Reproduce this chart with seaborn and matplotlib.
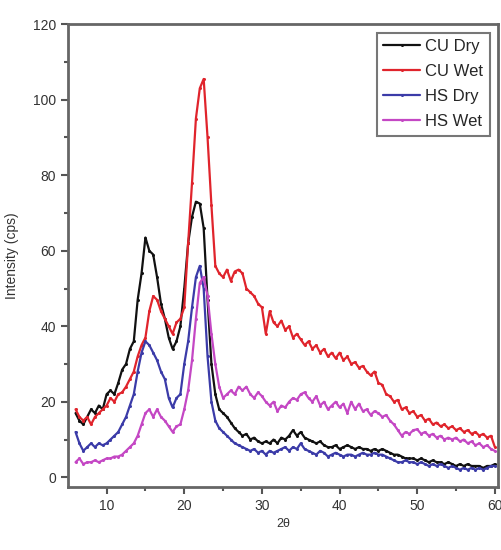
"""
XRD patterns: CU / HS fibres, dry vs wet.
"""

import matplotlib
matplotlib.use("Agg")
import matplotlib.pyplot as plt
import seaborn as sns
import numpy as np
import pandas as pd

# 2-theta grid, 0.5 deg step from 6 to 60
two_theta = np.arange(6.0, 60.01, 0.5)

cu_dry = [
    17, 15, 14, 16, 18, 17, 19, 18, 22, 23,
    22, 25, 28.5, 30, 34, 36, 47, 54, 63.5, 60,
    59, 53, 46, 42, 37, 34, 36, 40, 50, 62,
    69, 73, 72.5, 66, 47, 30, 22, 18, 17, 16,
    14.5, 13, 12, 11, 11.5, 10, 10.5, 9.5, 9, 9.5,
    9, 10, 9, 10.5, 10, 11, 12.5, 11, 12, 10.5,
    10, 9.5, 9, 9.5, 8.5, 8, 8, 8.5, 7.5, 8,
    8.5, 8, 7.5, 8, 7.5, 7.5, 7, 7.5, 7, 7.5,
    7, 6.5, 6, 6, 5.5, 5, 5, 5, 4.5, 5,
    4.5, 4, 4.5, 4, 4, 3.5, 4, 3.5, 3, 3.5,
    3, 3.5, 3, 3, 3, 2.5, 3, 3, 3.5,
]
cu_wet = [
    18, 16, 15, 16, 14, 16, 17, 18, 19, 21,
    20, 22, 22.5, 24, 26, 28, 32, 35, 37, 44,
    48, 47, 44, 42, 40, 38, 41, 42, 45, 62,
    78, 95, 103, 105.5, 90, 72, 56, 54, 53, 55,
    52, 54.5, 55, 54, 50, 49, 48, 46, 45, 38,
    44, 41, 40, 41.5, 39, 40, 37, 38, 36.5, 35,
    36, 34, 35, 33, 34, 32, 33, 31.5, 33, 31,
    32, 30, 30.5, 29, 29.5, 28, 27, 28, 25, 24.5,
    22, 21.5, 20, 20.5, 18, 18.5, 17, 17.5, 16, 16.5,
    15, 15.5, 14, 14.5, 13.5, 14, 13, 13.5, 12.5, 13,
    12, 12.5, 11.5, 12, 11, 11.5, 10.5, 11, 8,
]
hs_dry = [
    12, 9, 7, 8, 9, 8, 9, 8.5, 9, 10,
    11, 12, 14, 16, 19, 22, 28, 33, 36, 35,
    33, 31, 28, 26, 21, 18.5, 21, 22, 30, 36,
    45, 53, 56, 50, 32, 20, 15, 13, 12, 11,
    10, 9, 8.5, 8, 7.5, 7, 7.5, 6.5, 7, 6,
    7, 6.5, 7, 7.5, 8, 7, 8, 7.5, 9, 7.5,
    7, 6.5, 6, 7, 6.5, 5.5, 6, 6.5, 6, 5.5,
    6, 6, 5.5, 6, 6.5, 6, 6, 6.5, 6, 6,
    5.5, 5, 4.5, 4, 4, 4.5, 4, 4, 3.5, 4,
    3.5, 3, 3.5, 3, 3.5, 3, 2.5, 3, 2.5, 2,
    2.5, 2, 2.5, 2, 2.5, 2, 2.5, 3, 3,
]
hs_wet = [
    4, 5, 3.5, 4, 4, 4.5, 4, 4.5, 5, 5,
    5.5, 5.5, 6, 7, 8, 9, 11, 14, 17, 18,
    16, 18, 16, 15, 13.5, 12, 13.5, 14, 18, 23,
    31, 42, 51.5, 53, 48, 38, 30, 24, 21, 22,
    23, 22, 24, 23, 24, 22, 21, 22.5, 21.5, 20,
    19, 20, 17.5, 19, 18.5, 20, 21, 20.5, 22, 22.5,
    21, 20, 21.5, 19, 20, 18, 19, 20, 18.5, 19.5,
    17, 20, 18, 19.5, 17.5, 18, 16.5, 17.5, 17, 16,
    16.5, 15, 14, 12.5, 11, 12, 11.5, 12.5, 12.7, 11.5,
    12, 11, 11.5, 10.5, 11, 10, 10.5, 10, 10.5, 9.5,
    10, 9, 9.5, 8.5, 9, 8, 8.5, 7.5, 7,
]

series_names = ["CU Dry", "CU Wet", "HS Dry", "HS Wet"]
series_colors = ["#111111", "#e0242c", "#3b3ba8", "#c447c4"]

sns.set_style("ticks")
plt.rcParams['font.family'] = ['Liberation Sans', 'DejaVu Sans']

df = pd.DataFrame({"two_theta": two_theta, "CU Dry": cu_dry, "CU Wet": cu_wet,
                   "HS Dry": hs_dry, "HS Wet": hs_wet})

fig = plt.figure(figsize=(5.02, 5.5), dpi=100)
ax = fig.add_axes([0.135, 0.115, 0.857, 0.841])

for name, color in zip(series_names, series_colors):
    sns.lineplot(data=df, x="two_theta", y=name, ax=ax, color=color, label=name,
                 linewidth=1.6, marker="o", markersize=2.2, markeredgewidth=0)

ax.set_xlim(5, 60.4)
ax.set_ylim(-2.5, 120)
ax.set_xticks([10, 20, 30, 40, 50, 60])
ax.set_xticks([15, 25, 35, 45, 55], minor=True)
ax.set_yticks([0, 20, 40, 60, 80, 100, 120])
ax.set_yticks([10, 30, 50, 70, 90, 110], minor=True)
ax.tick_params(axis="both", which="both", direction="out", colors="#555555",
               labelcolor="#333333", labelsize=10, width=1.5)
ax.tick_params(which="major", length=5)
ax.tick_params(which="minor", length=3)

for side in ["left", "bottom", "top", "right"]:
    ax.spines[side].set_visible(True)
    ax.spines[side].set_color("#666666")
    ax.spines[side].set_linewidth(2)

ax.set_xlabel("2θ", fontsize=9, color="#333333", labelpad=4)
ax.set_ylabel("Intensity (cps)", fontsize=10, color="#333333", labelpad=10)

leg = ax.legend(loc="upper right", fontsize=12, frameon=True, fancybox=False,
                handlelength=2.2, handletextpad=0.3, borderpad=0.4,
                labelspacing=0.6, borderaxespad=0.5)
leg.get_frame().set_edgecolor("#555555")
leg.get_frame().set_linewidth(1.5)

fig.savefig("out.png", dpi=100)
